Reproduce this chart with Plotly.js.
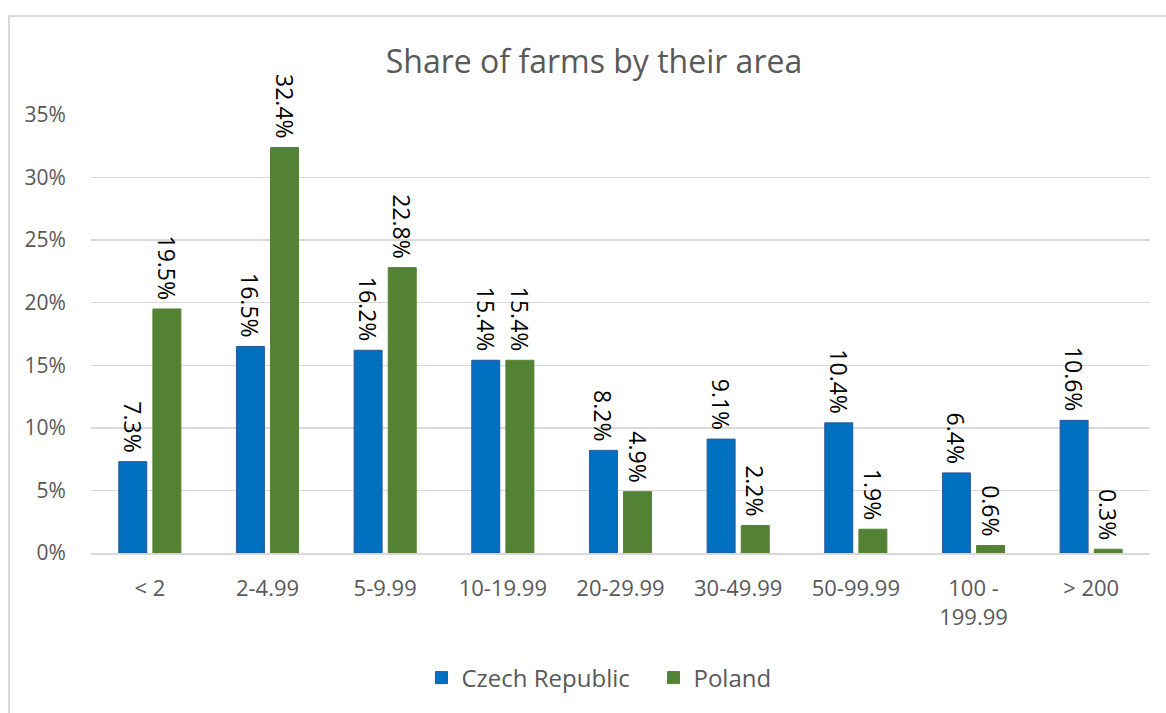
<!DOCTYPE html>
<html>
<head>
<meta charset="utf-8">
<script src="https://cdn.plot.ly/plotly-3.0.1.min.js"></script>
<style>
html,body{margin:0;padding:0;background:#fff;}
#chart{width:1166px;height:713px;position:absolute;left:0;top:0;}
#frame{position:absolute;left:8px;top:15px;width:1170px;height:720px;border:2px solid #d9d9d9;pointer-events:none;box-sizing:border-box;}
</style>
</head>
<body>
<div id="chart"></div>
<div id="frame"></div>
<script>
const categories = ['< 2', '2-4.99', '5-9.99', '10-19.99', '20-29.99', '30-49.99', '50-99.99', '100 -<br>199.99', '> 200'];
const czech = [7.3, 16.5, 16.2, 15.4, 8.2, 9.1, 10.4, 6.4, 10.6];
const poland = [19.5, 32.4, 22.8, 15.4, 4.9, 2.2, 1.9, 0.6, 0.3];
const seriesNames = ['Czech Republic', 'Poland'];
const yTicks = [0, 5, 10, 15, 20, 25, 30, 35];

const FONT = 'Open Sans, Liberation Sans, sans-serif';
function mk(vals, name, color, line) {
  return {
    type: 'bar', x: categories, y: vals, name: name,
    marker: {color: color, line: {color: line, width: 1}},
    text: vals.map(v => v.toFixed(1) + '%\u00a0'),
    textposition: 'outside', textangle: 90, cliponaxis: false, constraintext: 'none',
    textfont: {family: FONT, size: 23, color: '#000'},
    hoverinfo: 'x+y'
  };
}
const data = [mk(czech, seriesNames[0] + '\u00a0\u00a0\u00a0', '#0070C0', '#2f5597'), mk(poland, seriesNames[1], '#548235', '#548235')];
const layout = {
  width: 1166, height: 713,
  margin: {l: 91, r: 16, t: 115, b: 160},
  paper_bgcolor: 'rgba(0,0,0,0)', plot_bgcolor: 'rgba(0,0,0,0)',
  title: {text: 'Share of farms by their area', x: 594/1166, xref: 'container', xanchor: 'center', y: 1 - 62/713, yanchor: 'middle',
          font: {family: FONT, size: 32, color: '#595959'}},
  barmode: 'group', bargap: 0.42, bargroupgap: 0.18,
  uniformtext: {mode: false},
  xaxis: {type: 'category', showgrid: false, showline: true, linecolor: '#d9d9d9', linewidth: 2,
          ticks: 'outside', ticklen: 15, tickcolor: 'rgba(0,0,0,0)',
          tickfont: {family: FONT, size: 22, color: '#595959'}, zeroline: false},
  yaxis: {range: [0, 35], tickvals: yTicks, ticktext: yTicks.map(v => v + '%'),
          showgrid: true, gridcolor: '#d9d9d9', gridwidth: 1.5, zeroline: false, showline: false,
          ticks: 'outside', ticklen: 20, tickcolor: 'rgba(0,0,0,0)',
          tickfont: {family: FONT, size: 21, color: '#595959'}},
  legend: {orientation: 'h', x: (599 - 91) / 1059, xanchor: 'center', y: -125/438, yanchor: 'middle',
           font: {family: FONT, size: 24, color: '#595959'}, itemwidth: 30, traceorder: 'normal'},
  showlegend: true
};
Plotly.newPlot('chart', data, layout, {displayModeBar: false, staticPlot: true});
</script>
</body>
</html>
